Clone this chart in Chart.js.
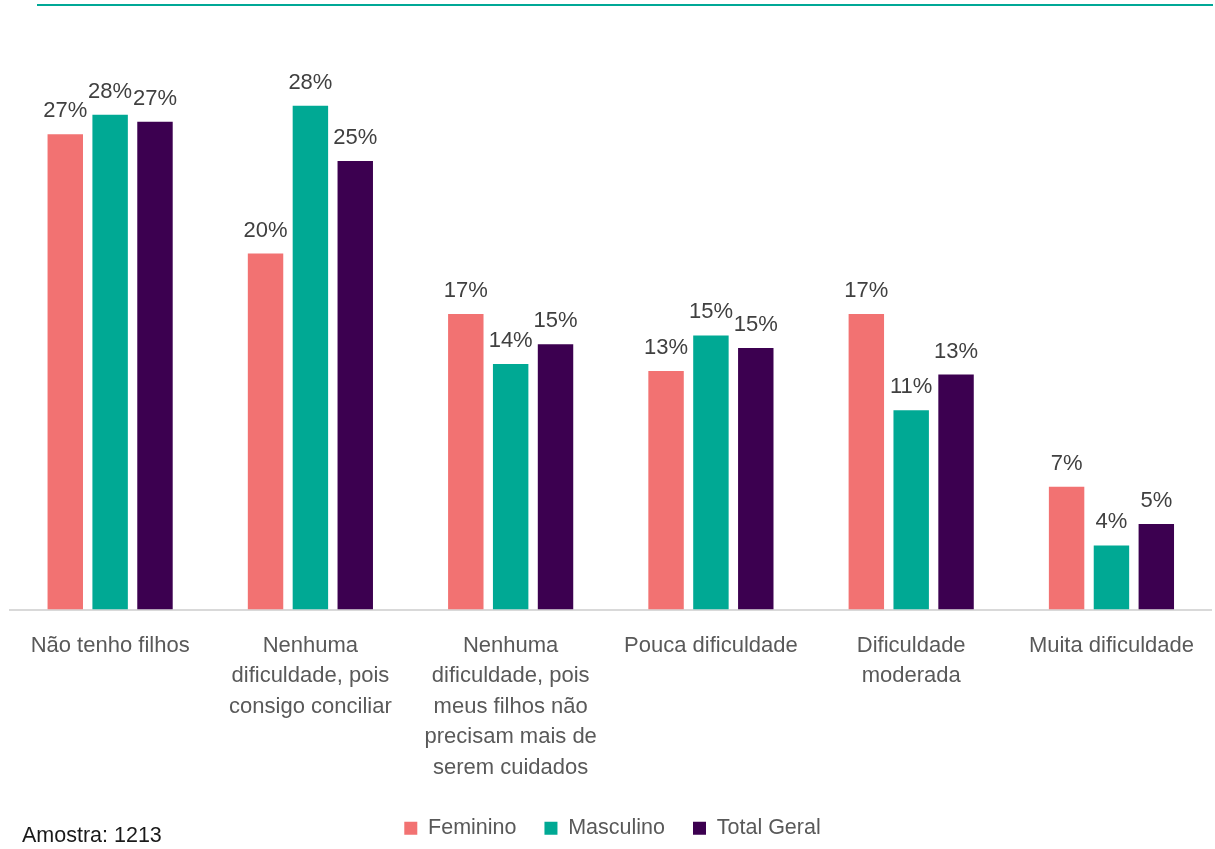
<!DOCTYPE html>
<html lang="pt">
<head>
<meta charset="utf-8">
<script src="https://cdn.jsdelivr.net/npm/chart.js@4/dist/chart.umd.min.js"></script>
<style>
  html, body { margin: 0; padding: 0; background: #ffffff; }
  #wrap { position: relative; width: 1215px; height: 849px; }
  #topRule { position: absolute; left: 37px; top: 4px; width: 1176px; height: 2px; background: #00a896; }
  #amostra { position: absolute; left: 22px; top: 821px; font-family: 'Liberation Sans', Arial, sans-serif; font-size: 21.5px; color: #1a1a1a; line-height: 28px; }
  canvas { position: absolute; left: 0; top: 0; }
</style>
</head>
<body>
<div id="wrap">
  <div id="topRule"></div>
  <canvas id="chart" width="1215" height="849"></canvas>
  <div id="amostra">Amostra: 1213</div>
</div>
<script>
// Response categories (multi-line where the label wraps)
const categories = [
  'Não tenho filhos',
  ['Nenhuma', 'dificuldade, pois', 'consigo conciliar'],
  ['Nenhuma', 'dificuldade, pois', 'meus filhos não', 'precisam mais de', 'serem cuidados'],
  'Pouca dificuldade',
  ['Dificuldade', 'moderada'],
  'Muita dificuldade'
];

// Share of respondents (%) per group
const feminino   = [26.7, 20.0, 16.6, 13.4, 16.6, 6.9];
const masculino  = [27.8, 28.3, 13.8, 15.4, 11.2, 3.6];
const totalGeral = [27.4, 25.2, 14.9, 14.7, 13.2, 4.8];

const seriesNames = ['Feminino', 'Masculino', 'Total Geral'];
const seriesColors = ['#f27272', '#00a994', '#3c0050'];

const FONT = "'Liberation Sans', Arial, sans-serif";

// Draws the rounded percentage above every bar
const valueLabels = {
  id: 'valueLabels',
  afterDatasetsDraw(chart) {
    const ctx = chart.ctx;
    ctx.save();
    ctx.font = '22px ' + FONT;
    ctx.fillStyle = '#404040';
    ctx.textAlign = 'center';
    ctx.textBaseline = 'alphabetic';
    chart.data.datasets.forEach((ds, i) => {
      const meta = chart.getDatasetMeta(i);
      meta.data.forEach((bar, j) => {
        ctx.fillText(Math.round(ds.data[j]) + '%', bar.x, bar.y - 17);
      });
    });
    ctx.restore();
  }
};

new Chart(document.getElementById('chart'), {
  type: 'bar',
  data: {
    labels: categories,
    datasets: [feminino, masculino, totalGeral].map((vals, i) => ({
      label: seriesNames[i],
      data: vals,
      backgroundColor: seriesColors[i],
      borderWidth: 0,
      categoryPercentage: 0.672,
      barPercentage: 0.79
    }))
  },
  options: {
    responsive: false,
    animation: false,
    layout: { padding: { left: 10, right: 0, top: 40, bottom: 0 } },
    scales: {
      y: { display: false, min: 0, max: 32 },
      x: {
        grid: { display: false, drawTicks: false },
        border: { display: true, color: '#d9d9d9', width: 2 },
        ticks: {
          padding: 21,
          color: '#595959',
          maxRotation: 0,
          autoSkip: false,
          font: { family: FONT, size: 22, lineHeight: '30.5px' }
        },
        afterFit(scale) { scale.height = 180; }
      }
    },
    plugins: {
      legend: {
        position: 'bottom',
        labels: {
          color: '#595959',
          boxWidth: 13,
          boxHeight: 13,
          padding: 28,
          font: { family: FONT, size: 21.5 }
        }
      },
      tooltip: { enabled: false }
    }
  },
  plugins: [valueLabels]
});
</script>
</body>
</html>
